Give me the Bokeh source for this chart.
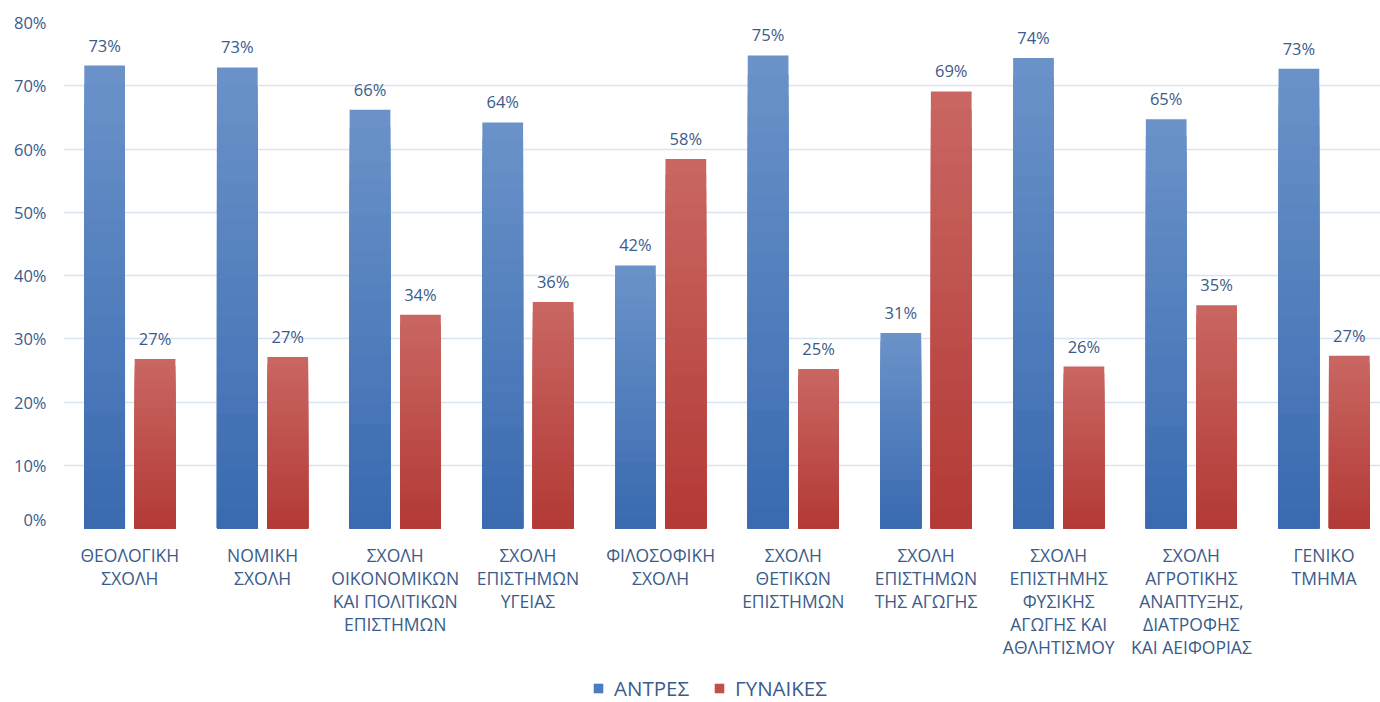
from bokeh.plotting import figure
from bokeh.layouts import column
from bokeh.models import (ColumnDataSource, Range1d, FixedTicker, Legend, LegendItem,
                          LabelSet)
from bokeh.embed import file_html
from bokeh.resources import INLINE
from bokeh.core.properties import value

categories = [
    "ΘΕΟΛΟΓΙΚΗ\nΣΧΟΛΗ",
    "ΝΟΜΙΚΗ\nΣΧΟΛΗ",
    "ΣΧΟΛΗ\nΟΙΚΟΝΟΜΙΚΩΝ\nΚΑΙ ΠΟΛΙΤΙΚΩΝ\nΕΠΙΣΤΗΜΩΝ",
    "ΣΧΟΛΗ\nΕΠΙΣΤΗΜΩΝ\nΥΓΕΙΑΣ",
    "ΦΙΛΟΣΟΦΙΚΗ\nΣΧΟΛΗ",
    "ΣΧΟΛΗ\nΘΕΤΙΚΩΝ\nΕΠΙΣΤΗΜΩΝ",
    "ΣΧΟΛΗ\nΕΠΙΣΤΗΜΩΝ\nΤΗΣ ΑΓΩΓΗΣ",
    "ΣΧΟΛΗ\nΕΠΙΣΤΗΜΗΣ\nΦΥΣΙΚΗΣ\nΑΓΩΓΗΣ ΚΑΙ\nΑΘΛΗΤΙΣΜΟΥ",
    "ΣΧΟΛΗ\nΑΓΡΟΤΙΚΗΣ\nΑΝΑΠΤΥΞΗΣ,\nΔΙΑΤΡΟΦΗΣ\nΚΑΙ ΑΕΙΦΟΡΙΑΣ",
    "ΓΕΝΙΚΟ\nΤΜΗΜΑ",
]
men = [73.2, 72.9, 66.2, 64.2, 41.6, 74.8, 30.9, 74.4, 64.7, 72.7]
women = [26.8, 27.1, 33.8, 35.8, 58.4, 25.2, 69.1, 25.6, 35.3, 27.3]
series_names = ["ΑΝΤΡΕΣ", "ΓΥΝΑΙΚΕΣ"]
y_ticks = [0, 10, 20, 30, 40, 50, 60, 70, 80]

TEXT = "#3b5b8a"
FONT = "Open Sans"
GRID = "#d9e4f2"
MEN_C = "#4a7dbf"
WOM_C = "#c0504d"

xs = list(range(len(categories)))
OFF = 0.19
W = 0.307
x_range = Range1d(-0.5, 9.425)

# ---------------- main chart ----------------
p = figure(width=1380, height=530, output_backend="svg", toolbar_location=None,
           x_range=x_range, y_range=Range1d(0, 80),
           x_axis_location=None,
           min_border_left=63, min_border_right=0, min_border_top=22,
           min_border_bottom=2)
p.outline_line_color = None
p.background_fill_color = "white"
p.border_fill_color = "white"

def gradient(top_rgb, bot_rgb, n):
    cols = []
    for k in range(n):
        t = k / (n - 1)
        c = tuple(int(round(a + (b - a) * t)) for a, b in zip(top_rgb, bot_rgb))
        cols.append("#%02x%02x%02x" % c)
    return cols

N = 24
men_cols = gradient((0x6a, 0x92, 0xc9), (0x3a, 0x6b, 0xb0), N)
wom_cols = gradient((0xc9, 0x66, 0x62), (0xb3, 0x3a, 0x37), N)

for vals, offs, cols in [(men, -OFF, men_cols), (women, OFF, wom_cols)]:
    for k in range(N):
        frac = 1 - k / N
        src = ColumnDataSource(dict(x=[x + offs for x in xs], top=[v * frac for v in vals]))
        p.vbar(x="x", top="top", bottom=0, width=W, source=src,
               fill_color=cols[k], line_color=None)

lab_src = ColumnDataSource(dict(
    x=[x - OFF for x in xs] + [x + OFF for x in xs],
    y=men + women,
    t=["{:.0f}%".format(v) for v in men] + ["{:.0f}%".format(v) for v in women],
))
labels = LabelSet(x="x", y="y", text="t", source=lab_src, y_offset=9,
                  text_align="center", text_baseline="bottom",
                  text_font=value(FONT), text_font_size="16.5px", text_color=TEXT)
p.add_layout(labels)

p.yaxis.ticker = FixedTicker(ticks=y_ticks)
p.yaxis.major_label_overrides = {t: "%d%%" % t for t in y_ticks}
p.yaxis.axis_line_color = None
p.yaxis.major_tick_line_color = None
p.yaxis.minor_tick_line_color = None
p.yaxis.major_tick_out = 0
p.yaxis.major_tick_in = 0
p.yaxis.minor_tick_out = 0
p.yaxis.major_label_standoff = 17
p.yaxis.major_label_text_font = FONT
p.yaxis.major_label_text_font_size = "16.5px"
p.yaxis.major_label_text_color = TEXT

p.xgrid.grid_line_color = None
p.ygrid.grid_line_color = GRID
p.ygrid.grid_line_width = 1.6
p.ygrid.ticker = FixedTicker(ticks=y_ticks)

# ---------------- category labels + legend strip ----------------
q = figure(width=1380, height=172, output_backend="svg", toolbar_location=None,
           x_range=x_range, y_range=Range1d(172, 0),
           x_axis_location=None, y_axis_location=None,
           min_border_left=63, min_border_right=0, min_border_top=0,
           min_border_bottom=0)
q.outline_line_color = None
q.grid.grid_line_color = None
q.background_fill_color = "white"
q.border_fill_color = "white"

cat_src = ColumnDataSource(dict(x=xs, t=categories))
q.text(x="x", y=12, text="t", source=cat_src,
       text_align="center", text_baseline="top",
       text_font=value(FONT), text_font_size="17.5px",
       text_color=TEXT, text_line_height=0.96)

# legend proxies: zero-height bars (nothing visible), used only for the legend swatches
proxy_src = ColumnDataSource(dict(x=xs, top=[0] * len(xs)))
r_men = q.vbar(x="x", top="top", bottom="top", width=W, source=proxy_src,
               fill_color=MEN_C, line_color=None)
r_wom = q.vbar(x="x", top="top", bottom="top", width=W, source=proxy_src,
               fill_color=WOM_C, line_color=None)

legend = Legend(items=[LegendItem(label=series_names[0], renderers=[r_men]),
                       LegendItem(label=series_names[1], renderers=[r_wom])],
                orientation="horizontal", location=(529, 0),
                label_text_font=FONT, label_text_font_size="20.5px",
                label_text_color=TEXT, glyph_width=12, glyph_height=12,
                spacing=24, label_standoff=10, border_line_color=None,
                background_fill_alpha=0, padding=0, margin=0)
q.add_layout(legend, "center")

layout = column(p, q, spacing=0)
open("out.html", "w").write(file_html(layout, INLINE))
